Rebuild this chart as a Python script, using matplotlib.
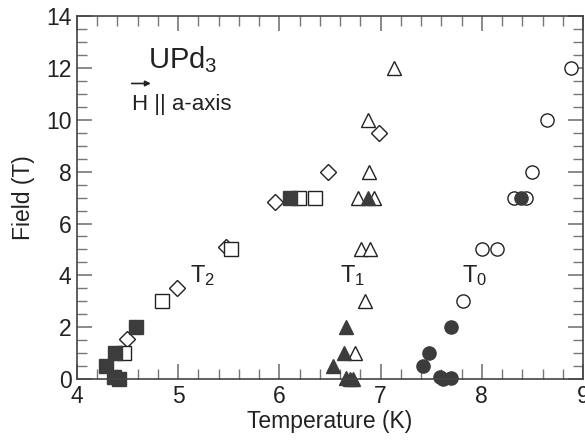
import matplotlib
matplotlib.use("Agg")
import matplotlib.pyplot as plt
from matplotlib.ticker import MultipleLocator

plt.rcParams['font.family'] = ['Liberation Sans', 'DejaVu Sans']
plt.rcParams['mathtext.fontset'] = 'custom'
plt.rcParams['mathtext.rm'] = 'Liberation Sans'
plt.rcParams['mathtext.it'] = 'Liberation Sans'
plt.rcParams['mathtext.default'] = 'regular'

# T2 branch
sq_filled_T = [4.29, 4.38, 4.58, 4.37, 4.42, 6.10]
sq_filled_H = [0.5, 1.0, 2.0, 0.1, 0.0, 7.0]
sq_open_T = [4.46, 4.84, 5.52, 6.19, 6.35]
sq_open_H = [1.0, 3.0, 5.0, 7.0, 7.0]
dia_open_T = [4.49, 4.99, 5.47, 5.96, 6.48, 6.98]
dia_open_H = [1.55, 3.5, 5.1, 6.83, 8.0, 9.5]

# T1 branch
tri_open_T = [6.75, 6.85, 6.81, 6.90, 6.78, 6.93, 6.89, 6.88, 7.13]
tri_open_H = [1.0, 3.0, 5.0, 5.0, 7.0, 7.0, 8.0, 10.0, 12.0]
tri_filled_T = [6.53, 6.64, 6.66, 6.66, 6.70, 6.73, 6.88]
tri_filled_H = [0.5, 1.0, 2.0, 0.03, 0.0, 0.0, 7.0]

# T0 branch
cir_open_T = [7.81, 8.00, 8.15, 8.32, 8.44, 8.50, 8.64, 8.88]
cir_open_H = [3.0, 5.0, 5.0, 7.0, 7.0, 8.0, 10.0, 12.0]
cir_filled_T = [7.42, 7.48, 7.70, 7.59, 7.62, 7.70, 8.39]
cir_filled_H = [0.5, 1.0, 2.0, 0.1, 0.0, 0.05, 7.0]

dark = '#3c3c3c'
txt = '#222222'

fig = plt.figure(figsize=(5.85, 4.46), dpi=100)
ax = fig.add_axes([0.1316, 0.150, 0.865, 0.814])

kw_open = dict(linestyle='none', mfc='white', mec='#222222', mew=1.0, clip_on=False)
kw_fill = dict(linestyle='none', mfc=dark, mec=dark, mew=1.0, clip_on=False)

ax.plot(dia_open_T, dia_open_H, marker='D', ms=8, **kw_open)
ax.plot(sq_open_T, sq_open_H, marker='s', ms=10, **kw_open)
ax.plot(sq_filled_T, sq_filled_H, marker='s', ms=10, **kw_fill)
ax.plot(tri_open_T, tri_open_H, marker='^', ms=10, **kw_open)
ax.plot(tri_filled_T, tri_filled_H, marker='^', ms=10, **kw_fill)
ax.plot(cir_open_T, cir_open_H, marker='o', ms=9.5, **kw_open)
ax.plot(cir_filled_T, cir_filled_H, marker='o', ms=9.5, **kw_fill)

ax.set_xlim(4, 9)
ax.set_ylim(0, 14)
ax.xaxis.set_major_locator(MultipleLocator(1))
ax.xaxis.set_minor_locator(MultipleLocator(0.2))
ax.yaxis.set_major_locator(MultipleLocator(2))
ax.yaxis.set_minor_locator(MultipleLocator(0.5))
ax.tick_params(which='both', direction='in', top=True, right=True,
               color='#777777', labelsize=16.5, labelcolor=txt)
ax.tick_params(axis='x', pad=4)
ax.tick_params(axis='y', pad=4)
ax.tick_params(which='major', length=11, width=1.2)
ax.tick_params(which='minor', length=7, width=1.0)
for s in ax.spines.values():
    s.set_color('#444444')
    s.set_linewidth(1.2)

ax.set_xlabel('Temperature (K)', fontsize=16.5, color=txt, labelpad=2)
ax.set_ylabel('Field (T)', fontsize=16.5, color=txt, labelpad=8)

ax.text(4.70, 12.0, 'UPd$_3$', fontsize=21, color=txt)
ax.text(4.54, 10.37, 'H || a-axis', fontsize=16, color=txt)
ax.annotate('', xy=(4.73, 11.4), xytext=(4.54, 11.4),
            arrowprops=dict(arrowstyle='-|>', color=txt, lw=1.2,
                            mutation_scale=8, shrinkA=0, shrinkB=0))

ax.text(5.12, 3.75, 'T$_2$', fontsize=17, color=txt)
ax.text(6.60, 3.75, 'T$_1$', fontsize=17, color=txt)
ax.text(7.80, 3.75, 'T$_0$', fontsize=17, color=txt)

fig.savefig('out.png', dpi=100)
